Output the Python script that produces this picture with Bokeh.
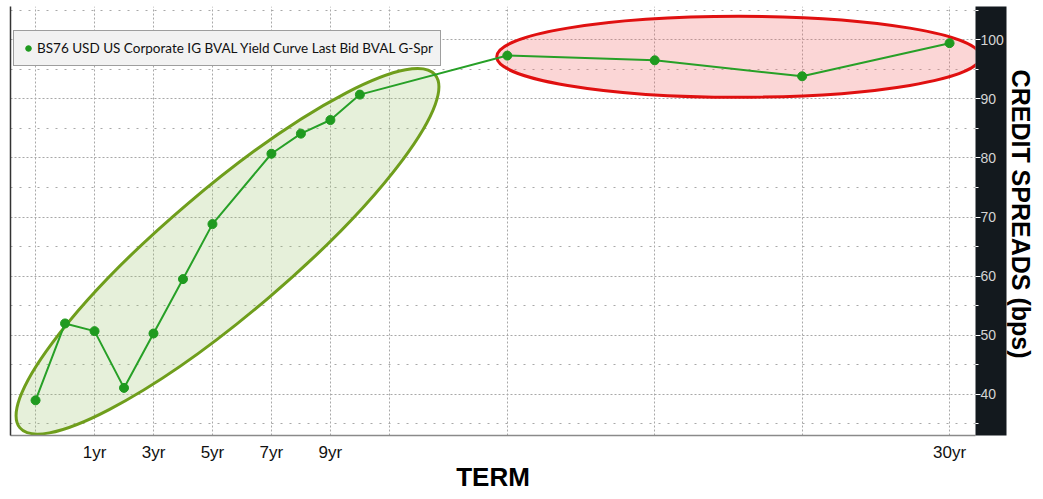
from bokeh.plotting import figure
from bokeh.models import (LinearAxis, FixedTicker, Legend, LegendItem, Range1d)
from bokeh.embed import file_html
from bokeh.resources import INLINE

# ---- data ----
terms = ["3mo", "6mo", "1yr", "2yr", "3yr", "4yr", "5yr", "7yr", "8yr", "9yr", "10yr",
         "15yr", "20yr", "25yr", "30yr"]
term_pos = [-1, 0, 1, 2, 3, 4, 5, 7, 8, 9, 10, 15, 20, 25, 30]   # axis position (1yr = 1)
spreads = [39.0, 52.0, 50.7, 41.1, 50.3, 59.5, 68.8, 80.7, 84.1, 86.4, 90.7,
           97.3, 96.5, 93.8, 99.4]
x_tick_pos = [1, 3, 5, 7, 9, 30]
x_tick_labels = ["1yr", "3yr", "5yr", "7yr", "9yr", "30yr"]
x_grid_pos = [-1, 1, 3, 5, 7, 9, 11, 15, 20, 25, 30]
y_ticks = [40, 50, 60, 70, 80, 90, 100]
y_minor = [35, 45, 55, 65, 75, 85, 95, 105]
series_name = "BS76 USD US Corporate IG BVAL Yield Curve Last Bid BVAL G-Spr"
x_title = "TERM"
y_title = "CREDIT  SPREADS  (bps)"

NARROW = "'Liberation Sans Narrow', 'Arial Narrow', 'Liberation Sans', sans-serif"

p = figure(width=1043, height=499, output_backend="svg", toolbar_location=None,
           x_range=Range1d(-1.85, 30.88), y_range=Range1d(33.05, 105.6),
           y_axis_location="right", min_border_left=10, min_border_top=6,
           min_border_right=68, min_border_bottom=64)
p.outline_line_color = None
p.background_fill_color = "white"
p.border_fill_color = "white"

# grids
p.xgrid.ticker = FixedTicker(ticks=x_grid_pos)
p.xgrid.grid_line_color = "#a8a8a8"
p.xgrid.grid_line_dash = "2 2"
p.ygrid.grid_line_color = "#a8a8a8"
p.ygrid.grid_line_dash = "2 2"
p.ygrid.minor_grid_line_color = "#a8a8a8"
p.ygrid.minor_grid_line_dash = "2 7"

# right axis (black box)
ya = p.yaxis[0]
ya.ticker = FixedTicker(ticks=y_ticks, minor_ticks=y_minor)
ya.background_fill_color = "#13191e"
ya.axis_line_color = None
ya.major_tick_line_color = "white"
ya.major_tick_in = 0
ya.major_tick_out = 5
ya.minor_tick_line_color = "white"
ya.minor_tick_in = 0
ya.minor_tick_out = 3
ya.major_label_text_color = "#d4d4d4"
ya.major_label_text_font = NARROW
ya.major_label_text_font_size = "14px"
ya.major_label_standoff = 0

# right axis title
ta = LinearAxis(axis_label=y_title, ticker=FixedTicker(ticks=[]),
                axis_line_color=None, major_tick_line_color=None,
                minor_tick_line_color=None, major_label_text_font_size="0px",
                major_tick_in=0, major_tick_out=0, minor_tick_in=0, minor_tick_out=0,
                major_label_standoff=0)
ta.axis_label_text_font = "Liberation Sans"
ta.axis_label_text_font_style = "bold"
ta.axis_label_text_font_size = "25px"
ta.axis_label_text_color = "black"
ta.axis_label_standoff = 0
p.add_layout(ta, "right")

# left axis line only
la = LinearAxis(ticker=FixedTicker(ticks=[]), axis_line_color="#333333",
                axis_line_width=1.5, major_tick_line_color=None,
                minor_tick_line_color=None, major_label_text_font_size="0px",
                major_tick_in=0, major_tick_out=0, minor_tick_in=0, minor_tick_out=0,
                major_label_standoff=0)
p.add_layout(la, "left")

# bottom axis
xa = p.xaxis[0]
xa.ticker = FixedTicker(ticks=x_tick_pos)
xa.major_label_overrides = {t: l for t, l in zip(x_tick_pos, x_tick_labels)}
xa.axis_line_color = "#8a8a8a"
xa.axis_line_width = 1.5
xa.major_tick_line_color = None
xa.minor_tick_line_color = None
xa.major_tick_in = 0
xa.major_tick_out = 0
xa.minor_tick_in = 0
xa.minor_tick_out = 0
xa.major_label_text_font = NARROW
xa.major_label_text_font_size = "17px"
xa.major_label_text_color = "#111111"
xa.major_label_standoff = 7
xa.axis_label = x_title
xa.axis_label_text_font = "Liberation Sans"
xa.axis_label_text_font_style = "bold"
xa.axis_label_text_font_size = "26px"
xa.axis_label_text_color = "black"
xa.axis_label_standoff = -3

# highlight ellipses (annotation shapes, screen-sized)
p.ellipse(x=[5.51], y=[64.2], width=[545], height=[124], angle=[0.705],
          width_units="screen", height_units="screen",
          fill_color="#9cc46a", fill_alpha=0.25, line_color="#6f9e1c", line_width=3)
p.ellipse(x=[22.85], y=[97.1], width=[484], height=[81], angle=[0.0],
          width_units="screen", height_units="screen",
          fill_color="#f26b6b", fill_alpha=0.28, line_color="#e01010", line_width=3)

# curve
p.line(term_pos, spreads, line_color="#27a027", line_width=2)
pts = p.scatter(term_pos, spreads, size=9, fill_color="#1f9a1f", line_color="#1f9a1f")

legend = Legend(items=[LegendItem(label=series_name, renderers=[pts])],
                location=(3, 369), orientation="horizontal")
legend.background_fill_color = "#f2f2f2"
legend.background_fill_alpha = 1.0
legend.border_line_color = "#4a4a4a"
legend.border_line_width = 1
legend.label_text_font = "Lato"
legend.label_text_font_size = "13.5px"
legend.label_text_color = "#111111"
legend.glyph_width = 14
legend.label_standoff = 2
legend.padding = 7
legend.margin = 0
p.add_layout(legend, "center")

open("out.html", "w").write(file_html(p, INLINE))
